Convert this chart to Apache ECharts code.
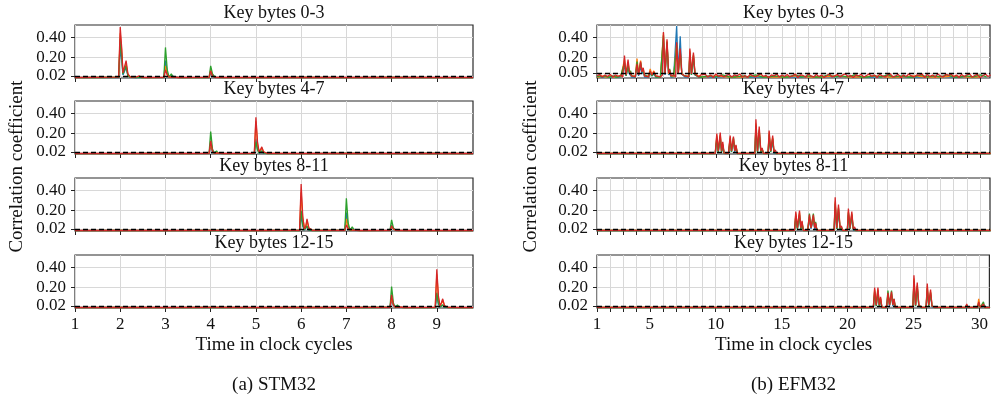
<!DOCTYPE html>
<html><head><meta charset="utf-8">
<script src="https://cdn.jsdelivr.net/npm/echarts@6/dist/echarts.min.js"></script>
<style>html,body{margin:0;padding:0;background:#fff}#c{width:991px;height:410px}</style>
</head><body><div id="c"></div>
<script>
// ---------- labels / ticks ----------
const subplotTitles = ['Key bytes 0-3','Key bytes 4-7','Key bytes 8-11','Key bytes 12-15'];
const panelCaptions = ['(a) STM32','(b) EFM32'];
const stmTicksX = [1,2,3,4,5,6,7,8,9];
const stmLabelsX = [1,2,3,4,5,6,7,8,9];
const efmTicksX = [1,2,3,4,5,6,7,8,9,10,11,12,13,14,15,16,17,18,19,20,21,22,23,24,25,26,27,28,29,30];
const efmLabelsX = [1,5,10,15,20,25,30];
const yTicksLow = [0.02,0.2,0.4];
const yTicksEfm0 = [0.05,0.2,0.4];
const yUpperLabels = [0.2,0.4];
const stmThresholds = [0.02,0.02,0.02,0.02];
const efmThresholds = [0.05,0.02,0.02,0.02];

// ---------- STM32 traces ----------
const stm0_t      = [1.0,1.5,1.965,2.0,2.035,2.06,2.09,2.13,2.17,2.22, 2.35,2.42,2.48,2.6,2.965,3.0,3.04,3.08,3.13,3.17, 3.3,3.965,4.0,4.04,4.1,4.3,5,6,7,8, 9,9.8];
const stm0_red    = [0.005,0.006,0.008,0.50,0.28,0.05,0.06,0.17,0.04,0.01, 0.008,0.02,0.006,0.005,0.006,0.08,0.03,0.008,0.01,0.006, 0.005,0.006,0.07,0.02,0.006,0.005,0.005,0.006,0.005,0.006, 0.005,0.005];
const stm0_orange = [0.004,0.005,0.006,0.44,0.25,0.05,0.05,0.14,0.03,0.01, 0.006,0.01,0.005,0.004,0.005,0.12,0.03,0.006,0.01,0.005, 0.004,0.005,0.08,0.02,0.005,0.004,0.004,0.005,0.004,0.005, 0.004,0.004];
const stm0_green  = [0.004,0.005,0.006,0.38,0.20,0.04,0.04,0.12,0.02,0.008, 0.005,0.008,0.004,0.004,0.006,0.30,0.08,0.008,0.04,0.008, 0.004,0.005,0.12,0.04,0.006,0.004,0.004,0.005,0.004,0.005, 0.004,0.004];
const stm0_blue   = [0.004,0.005,0.005,0.30,0.16,0.03,0.03,0.10,0.02,0.006, 0.004,0.006,0.004,0.004,0.005,0.17,0.05,0.006,0.02,0.006, 0.004,0.005,0.05,0.02,0.005,0.004,0.004,0.005,0.004,0.005, 0.004,0.004];

const stm1_t      = [1,2,3,3.5,3.965,4.0,4.04,4.08,4.13,4.17, 4.3,4.965,5.0,5.035,5.07,5.1,5.13,5.17,5.25,6, 7,8,9,9.8];
const stm1_red    = [0.005,0.005,0.006,0.005,0.006,0.13,0.03,0.008,0.01,0.006, 0.005,0.006,0.36,0.12,0.02,0.04,0.07,0.02,0.006,0.005, 0.006,0.005,0.006,0.005];
const stm1_orange = [0.004,0.004,0.005,0.004,0.005,0.10,0.03,0.006,0.01,0.005, 0.004,0.005,0.32,0.10,0.02,0.03,0.06,0.02,0.005,0.004, 0.005,0.004,0.005,0.004];
const stm1_green  = [0.004,0.004,0.005,0.004,0.006,0.22,0.05,0.008,0.03,0.006, 0.004,0.005,0.12,0.04,0.01,0.02,0.03,0.01,0.005,0.004, 0.005,0.004,0.005,0.004];
const stm1_blue   = [0.004,0.004,0.005,0.004,0.005,0.08,0.02,0.006,0.01,0.005, 0.004,0.005,0.15,0.05,0.01,0.02,0.03,0.01,0.005,0.004, 0.005,0.004,0.005,0.004];

const stm2_t      = [1,2,3,4,5,5.5,5.965,6.0,6.035,6.07, 6.1,6.13,6.17,6.25,6.965,7.0,7.04,7.08,7.13,7.17, 7.3,7.965,8.0,8.04,8.1,8.3,9,9.8];
const stm2_red    = [0.005,0.006,0.005,0.006,0.005,0.006,0.006,0.46,0.15,0.02, 0.04,0.12,0.03,0.006,0.006,0.06,0.02,0.006,0.01,0.006, 0.005,0.006,0.05,0.02,0.006,0.005,0.005,0.005];
const stm2_orange = [0.004,0.005,0.004,0.005,0.004,0.005,0.005,0.38,0.12,0.05, 0.03,0.10,0.03,0.005,0.005,0.12,0.03,0.005,0.01,0.005, 0.004,0.005,0.05,0.02,0.005,0.004,0.004,0.004];
const stm2_green  = [0.004,0.005,0.004,0.005,0.004,0.005,0.005,0.20,0.06,0.01, 0.02,0.05,0.01,0.005,0.006,0.32,0.08,0.008,0.04,0.008, 0.004,0.006,0.11,0.03,0.006,0.004,0.004,0.004];
const stm2_blue   = [0.004,0.005,0.004,0.005,0.004,0.005,0.005,0.15,0.05,0.01, 0.02,0.04,0.01,0.005,0.005,0.18,0.05,0.006,0.02,0.006, 0.004,0.005,0.06,0.02,0.005,0.004,0.004,0.004];

const stm3_t      = [1,2,3,4,5,6,7,7.5,7.965,8.0, 8.04,8.08,8.13,8.17,8.3,8.965,9.0,9.035,9.07,9.1, 9.13,9.17,9.25,9.5,9.8];
const stm3_red    = [0.005,0.006,0.005,0.006,0.005,0.006,0.005,0.006,0.006,0.13, 0.03,0.008,0.01,0.006,0.005,0.006,0.38,0.12,0.02,0.05, 0.09,0.02,0.006,0.005,0.005];
const stm3_orange = [0.004,0.005,0.004,0.005,0.004,0.005,0.004,0.005,0.005,0.10, 0.03,0.006,0.01,0.005,0.004,0.005,0.33,0.10,0.02,0.04, 0.08,0.02,0.005,0.004,0.004];
const stm3_green  = [0.004,0.005,0.004,0.005,0.004,0.005,0.004,0.005,0.006,0.21, 0.05,0.008,0.03,0.006,0.004,0.005,0.15,0.05,0.01,0.02, 0.03,0.01,0.005,0.004,0.004];
const stm3_blue   = [0.004,0.005,0.004,0.005,0.004,0.005,0.004,0.005,0.005,0.08, 0.02,0.006,0.01,0.005,0.004,0.005,0.12,0.04,0.01,0.02, 0.03,0.01,0.005,0.004,0.004];

// ---------- EFM32 traces ----------
const efm0_t = [1.0,1.2,1.4,1.6,1.8,2.0,2.2,2.4,2.6,2.8,
  2.95,3.08,3.2,3.35,3.45,3.55,3.62,3.75,3.9,4.03,
  4.15,4.3,4.4,4.5,4.6,4.75,4.9,5.03,5.15,5.3,
  5.45,5.6,5.8,5.95,6.03,6.15,6.3,6.42,6.5,6.6,
  6.8,6.95,7.03,7.15,7.3,7.42,7.55,7.65,7.8,7.95,
  8.03,8.15,8.3,8.42,8.55,8.7,8.85];
const efm0_red = [0.02,0.035,0.01,0.03,0.015,0.035,0.01,0.03,0.015,0.03,
  0.01,0.22,0.03,0.18,0.07,0.08,0.02,0.035,0.01,0.14,
  0.03,0.16,0.06,0.10,0.02,0.03,0.01,0.07,0.03,0.06,
  0.02,0.035,0.01,0.03,0.45,0.04,0.38,0.05,0.08,0.02,
  0.03,0.01,0.35,0.04,0.29,0.04,0.05,0.02,0.035,0.01,
  0.29,0.04,0.25,0.04,0.05,0.01,0.03];
const efm0_orange = [0.01,0.01,0.02,0.01,0.01,0.02,0.01,0.01,0.02,0.01,
  0.01,0.18,0.03,0.15,0.06,0.06,0.02,0.01,0.02,0.19,
  0.04,0.17,0.07,0.09,0.02,0.01,0.02,0.09,0.03,0.07,
  0.02,0.01,0.01,0.01,0.44,0.05,0.36,0.04,0.07,0.02,
  0.01,0.02,0.33,0.04,0.27,0.04,0.04,0.02,0.01,0.02,
  0.27,0.04,0.23,0.04,0.04,0.02,0.01];
const efm0_green = [0.01,0.02,0.01,0.02,0.01,0.01,0.02,0.01,0.01,0.02,
  0.01,0.15,0.02,0.12,0.05,0.07,0.02,0.02,0.01,0.16,
  0.03,0.15,0.08,0.08,0.03,0.02,0.01,0.06,0.02,0.05,
  0.01,0.02,0.01,0.02,0.42,0.04,0.35,0.05,0.09,0.02,
  0.02,0.01,0.32,0.04,0.26,0.04,0.05,0.02,0.02,0.01,
  0.25,0.03,0.22,0.03,0.04,0.01,0.02];
const efm0_blue = [0.01,0.01,0.01,0.01,0.01,0.01,0.01,0.01,0.01,0.01,
  0.01,0.12,0.02,0.10,0.04,0.04,0.01,0.01,0.01,0.12,
  0.02,0.12,0.04,0.06,0.01,0.01,0.01,0.05,0.02,0.04,
  0.01,0.01,0.01,0.01,0.38,0.03,0.33,0.03,0.05,0.01,
  0.01,0.01,0.51,0.05,0.41,0.04,0.04,0.01,0.01,0.01,
  0.22,0.03,0.20,0.03,0.03,0.01,0.01];
// noise floor after the leaky region, sampled from t = 9.0
const efm0_tailRed = [0.02,0.035,0.01,0.03,0.005,0.04,0.015,0.03,0.01,0.025,
  0.035,0.01,0.03,0.02,0.04,0.01,0.025,0.005,0.035,0.02,
  0.01,0.03,0.04,0.015,0.025,0.005,0.03,0.02,0.04,0.01,
  0.03,0.015,0.035,0.01,0.02,0.04,0.005,0.03,0.025,0.01,
  0.04,0.02,0.01,0.035,0.015,0.03,0.005,0.025,0.04,0.01,
  0.02,0.035,0.01,0.03,0.04,0.015,0.025,0.005,0.03,0.02,
  0.035,0.01,0.025,0.04,0.015,0.03,0.005,0.035,0.02,0.01,
  0.03,0.04,0.01,0.02,0.035,0.005,0.03,0.015,0.04,0.02,
  0.01,0.03,0.025,0.04,0.005,0.035,0.015,0.03,0.01,0.04,
  0.02,0.01,0.035,0.025,0.04,0.01,0.03,0.005,0.035,0.015,
  0.03,0.04,0.01,0.025,0.035,0.005,0.02,0.04,0.015,0.03];
const efm0_tailGreen = [0.01,0.02,0.01,0.03,0.01,0.01,0.02,0.01,0.03,0.01,
  0.01,0.02,0.01,0.01,0.03,0.01,0.02,0.01,0.01,0.03,
  0.01,0.02,0.01,0.03,0.01,0.01,0.02,0.01,0.03,0.01,
  0.02,0.01,0.01,0.03,0.01,0.02,0.01,0.03,0.01,0.01,
  0.02,0.01,0.03,0.01];
const efm0_tailOrange = [0.01,0.02,0.01,0.01,0.02,0.01,0.01,0.02,0.01,0.01,0.02,
  0.01,0.01,0.02,0.01,0.01,0.02,0.01,0.01,0.02,0.01,0.01];
const efm0_tailBlue = [0.01,0.01,0.015,0.01,0.01,0.01,0.015,0.01,0.01,0.01,0.015,
  0.01,0.01,0.01,0.015,0.01,0.01,0.01,0.015,0.01,0.01,0.01];
const efm0_tailStart = 9.0;
const efm0_tailSteps = {red:0.2, green:0.5, orange:1, blue:1};

const efm1_t      = [1,3,5,7,9,9.95,10.07,10.18,10.33,10.43, 10.52,10.62,10.95,11.08,11.18,11.33,11.43,11.52,11.62,12.95, 13.03,13.15,13.28,13.4,13.5,13.6,13.95,14.03,14.15,14.3, 14.4,14.5,14.6,16,18,20,22,24,26,28, 30,30.8];
const efm1_red    = [0.006,0.006,0.006,0.006,0.006,0.006,0.20,0.03,0.21,0.03, 0.12,0.008,0.006,0.18,0.03,0.17,0.03,0.09,0.006,0.006, 0.34,0.03,0.27,0.03,0.06,0.006,0.006,0.23,0.03,0.18, 0.02,0.04,0.006,0.006,0.006,0.006,0.006,0.006,0.006,0.006, 0.006,0.006];
const efm1_orange = [0.005,0.005,0.005,0.005,0.005,0.005,0.18,0.03,0.19,0.03, 0.10,0.006,0.005,0.16,0.03,0.15,0.03,0.08,0.005,0.005, 0.30,0.03,0.24,0.03,0.05,0.005,0.005,0.21,0.03,0.16, 0.02,0.03,0.005,0.005,0.005,0.005,0.005,0.005,0.005,0.005, 0.005,0.005];
const efm1_green  = [0.005,0.005,0.005,0.005,0.005,0.005,0.16,0.02,0.17,0.02, 0.09,0.006,0.005,0.15,0.02,0.16,0.03,0.08,0.005,0.005, 0.28,0.02,0.23,0.02,0.05,0.005,0.005,0.19,0.02,0.15, 0.02,0.03,0.005,0.005,0.005,0.005,0.005,0.005,0.005,0.005, 0.005,0.005];
const efm1_blue   = [0.004,0.004,0.004,0.004,0.004,0.004,0.13,0.02,0.14,0.02, 0.07,0.005,0.004,0.12,0.02,0.12,0.02,0.06,0.004,0.004, 0.24,0.02,0.19,0.02,0.04,0.004,0.004,0.16,0.02,0.12, 0.01,0.02,0.004,0.004,0.004,0.004,0.004,0.004,0.004,0.004, 0.004,0.004];

const efm2_t      = [1,3,5,7,9,11,13,15,15.95,16.05, 16.17,16.33,16.43,16.52,16.62,16.95,17.08,17.2,17.38,17.48, 17.55,17.65,18.95,19.03,19.15,19.28,19.4,19.5,19.6,19.95, 20.03,20.15,20.29,20.4,20.5,20.6,22,24,26,28, 30,30.8];
const efm2_red    = [0.006,0.006,0.006,0.006,0.006,0.006,0.006,0.006,0.006,0.19, 0.03,0.20,0.03,0.10,0.006,0.006,0.16,0.03,0.16,0.03, 0.08,0.006,0.006,0.33,0.03,0.26,0.03,0.05,0.006,0.006, 0.22,0.03,0.19,0.02,0.04,0.006,0.006,0.006,0.006,0.006, 0.006,0.006];
const efm2_orange = [0.005,0.005,0.005,0.005,0.005,0.005,0.005,0.005,0.005,0.17, 0.03,0.18,0.03,0.09,0.005,0.005,0.14,0.03,0.14,0.03, 0.07,0.005,0.005,0.29,0.03,0.23,0.03,0.04,0.005,0.005, 0.19,0.03,0.17,0.02,0.03,0.005,0.005,0.005,0.005,0.005, 0.005,0.005];
const efm2_green  = [0.005,0.005,0.005,0.005,0.005,0.005,0.005,0.005,0.005,0.15, 0.02,0.16,0.02,0.08,0.005,0.005,0.17,0.03,0.17,0.03, 0.09,0.005,0.005,0.27,0.02,0.22,0.02,0.04,0.005,0.005, 0.18,0.02,0.16,0.02,0.03,0.005,0.005,0.005,0.005,0.005, 0.005,0.005];
const efm2_blue   = [0.004,0.004,0.004,0.004,0.004,0.004,0.004,0.004,0.004,0.12, 0.02,0.13,0.02,0.06,0.004,0.004,0.11,0.02,0.11,0.02, 0.05,0.004,0.004,0.24,0.02,0.19,0.02,0.03,0.004,0.004, 0.16,0.02,0.14,0.01,0.02,0.004,0.004,0.004,0.004,0.004, 0.004,0.004];

const efm3_t      = [1,3,5,7,9,11,13,15,17,19, 21,21.95,22.05,22.17,22.3,22.4,22.5,22.6,22.95,23.06, 23.18,23.33,23.43,23.52,23.62,24,24.95,25.03,25.15,25.28, 25.4,25.5,25.6,25.95,26.04,26.15,26.29,26.4,26.5,26.6, 27.5,28.95,29.03,29.12,29.5,29.85,29.94,30.05,30.2,30.3, 30.4,30.8];
const efm3_red    = [0.006,0.006,0.006,0.006,0.006,0.006,0.006,0.006,0.006,0.006, 0.006,0.006,0.20,0.03,0.20,0.03,0.11,0.006,0.006,0.15, 0.03,0.16,0.03,0.09,0.006,0.006,0.006,0.32,0.03,0.25, 0.03,0.04,0.006,0.006,0.24,0.03,0.18,0.02,0.03,0.006, 0.006,0.006,0.04,0.006,0.006,0.006,0.06,0.006,0.006,0.04, 0.006,0.006];
const efm3_orange = [0.005,0.005,0.005,0.005,0.005,0.005,0.005,0.005,0.005,0.005, 0.005,0.005,0.18,0.03,0.18,0.03,0.10,0.005,0.005,0.14, 0.03,0.14,0.03,0.08,0.005,0.005,0.005,0.29,0.03,0.22, 0.03,0.03,0.005,0.005,0.21,0.03,0.16,0.02,0.03,0.005, 0.005,0.005,0.03,0.005,0.005,0.005,0.09,0.005,0.005,0.03, 0.005,0.005];
const efm3_green  = [0.005,0.005,0.005,0.005,0.005,0.005,0.005,0.005,0.005,0.005, 0.005,0.005,0.16,0.02,0.17,0.02,0.09,0.005,0.005,0.17, 0.03,0.17,0.03,0.09,0.005,0.005,0.005,0.27,0.02,0.21, 0.02,0.03,0.005,0.005,0.19,0.02,0.15,0.02,0.02,0.005, 0.005,0.005,0.03,0.005,0.005,0.005,0.05,0.005,0.005,0.06, 0.005,0.005];
const efm3_blue   = [0.004,0.004,0.004,0.004,0.004,0.004,0.004,0.004,0.004,0.004, 0.004,0.004,0.13,0.02,0.13,0.02,0.07,0.004,0.004,0.11, 0.02,0.12,0.02,0.06,0.004,0.004,0.004,0.24,0.02,0.19, 0.02,0.02,0.004,0.004,0.17,0.02,0.13,0.01,0.02,0.004, 0.004,0.004,0.02,0.004,0.004,0.004,0.04,0.004,0.004,0.02, 0.004,0.004];

// ---------- build ----------
const pairs = (t, v) => t.map((x, i) => [x, v[i]]);
const tail = (start, step, v) => v.map((y, i) => [start + i * step, y]);

const stmSets = [
  [pairs(stm0_t,stm0_blue),pairs(stm0_t,stm0_orange),pairs(stm0_t,stm0_green),pairs(stm0_t,stm0_red)],
  [pairs(stm1_t,stm1_blue),pairs(stm1_t,stm1_orange),pairs(stm1_t,stm1_green),pairs(stm1_t,stm1_red)],
  [pairs(stm2_t,stm2_blue),pairs(stm2_t,stm2_orange),pairs(stm2_t,stm2_green),pairs(stm2_t,stm2_red)],
  [pairs(stm3_t,stm3_blue),pairs(stm3_t,stm3_orange),pairs(stm3_t,stm3_green),pairs(stm3_t,stm3_red)]
];
const efmSets = [
  [pairs(efm0_t,efm0_blue).concat(tail(efm0_tailStart,efm0_tailSteps.blue,efm0_tailBlue)),
   pairs(efm0_t,efm0_orange).concat(tail(efm0_tailStart,efm0_tailSteps.orange,efm0_tailOrange)),
   pairs(efm0_t,efm0_green).concat(tail(efm0_tailStart,efm0_tailSteps.green,efm0_tailGreen)),
   pairs(efm0_t,efm0_red).concat(tail(efm0_tailStart,efm0_tailSteps.red,efm0_tailRed))],
  [pairs(efm1_t,efm1_blue),pairs(efm1_t,efm1_orange),pairs(efm1_t,efm1_green),pairs(efm1_t,efm1_red)],
  [pairs(efm2_t,efm2_blue),pairs(efm2_t,efm2_orange),pairs(efm2_t,efm2_green),pairs(efm2_t,efm2_red)],
  [pairs(efm3_t,efm3_blue),pairs(efm3_t,efm3_orange),pairs(efm3_t,efm3_green),pairs(efm3_t,efm3_red)]
];

const COLORS = ['#1f77b4','#ff7f0e','#2ca02c','#d62728'];
const FONT = '"Liberation Serif","Times New Roman",serif';
const TOPS = [25,101,178,255];
const H = 53;
const YMAX = 0.52;
const panels = [
  {left:75, width:398, xmin:1, xmax:9.8, ticks:stmTicksX, labels:stmLabelsX, thr:stmThresholds,
   yt:[yTicksLow,yTicksLow,yTicksLow,yTicksLow], sets:stmSets, caption:panelCaptions[0], yname:17},
  {left:597, width:393, xmin:1, xmax:30.75, ticks:efmTicksX, labels:efmLabelsX, thr:efmThresholds,
   yt:[yTicksEfm0,yTicksLow,yTicksLow,yTicksLow], sets:efmSets, caption:panelCaptions[1], yname:531}
];

const grid = [], xAxis = [], yAxis = [], series = [], graphic = [];
const txt = (s, x, y, size, rot) => ({type:'text', x, y, rotation: rot || 0, silent:true,
  style:{text:s, font: size + 'px ' + FONT, fill:'#111', textAlign:'center', textVerticalAlign:'middle'}});
const labelStyle = {hideOverlap:false, showMinLabel:true, showMaxLabel:true,
  formatter:v => Number(v).toFixed(2), fontFamily:FONT, fontSize:17, color:'#111', margin:9};

panels.forEach((p, pi) => {
  for (let k = 0; k < 4; k++) {
    const gi = pi * 4 + k;
    grid.push({left:p.left, top:TOPS[k], width:p.width, height:H, show:true,
      borderColor:'#2b2b2b', borderWidth:1.2, backgroundColor:'rgba(0,0,0,0)'});
    xAxis.push({type:'value', gridIndex:gi, min:p.xmin, max:p.xmax,
      axisLine:{show:false},
      axisTick:{show:true, customValues:p.ticks, length:4, lineStyle:{color:'#222', width:1}},
      axisLabel:{show:k === 3, customValues:p.labels, hideOverlap:false, fontFamily:FONT, fontSize:17, color:'#111', margin:8},
      splitLine:{show:true, lineStyle:{color:'#d8d8d8', width:1}}});
    const yi = yAxis.length;
    // upper labels (0.20, 0.40) on the main axis; the threshold label on a twin axis of the same scale
    yAxis.push({type:'value', gridIndex:gi, min:0, max:YMAX, position:'left',
      axisLine:{show:false},
      axisTick:{show:true, customValues:p.yt[k], length:4, lineStyle:{color:'#222', width:1}},
      axisLabel:Object.assign({customValues:yUpperLabels}, labelStyle),
      splitLine:{show:true, lineStyle:{color:'#d8d8d8', width:1}}});
    yAxis.push({type:'value', gridIndex:gi, min:0, max:YMAX, position:'left', offset:0,
      axisLine:{show:false}, axisTick:{show:false}, splitLine:{show:false},
      axisLabel:Object.assign({customValues:[p.thr[k]]}, labelStyle)});
    p.sets[k].forEach((d, si) => {
      const s = {type:'line', xAxisIndex:gi, yAxisIndex:yi, data:d, symbol:'none', showSymbol:false,
        lineStyle:{color:COLORS[si], width:1.3}, itemStyle:{color:COLORS[si]}, z:2 + si * 0.1,
        silent:true, animation:false};
      if (si === 3) {
        s.markLine = {silent:true, symbol:['none','none'], label:{show:false}, animation:false,
          lineStyle:{color:'#000', type:[5,3], width:1.4}, emphasis:{disabled:true},
          data:[{yAxis:p.thr[k]}]};
      }
      series.push(s);
    });
    graphic.push(txt(subplotTitles[k], p.left + p.width / 2, TOPS[k] - 12, 18));
  }
  graphic.push(txt('Time in clock cycles', p.left + p.width / 2, 345, 19));
  graphic.push(txt(p.caption, p.left + p.width / 2, 385, 19));
  graphic.push(txt('Correlation coefficient', p.yname, (TOPS[0] + TOPS[3] + H) / 2, 19, Math.PI / 2));
});

const chart = echarts.init(document.getElementById('c'), null, {renderer:'canvas'});
chart.setOption({animation:false, backgroundColor:'#fff', grid, xAxis, yAxis, series, graphic});
</script></body></html>
